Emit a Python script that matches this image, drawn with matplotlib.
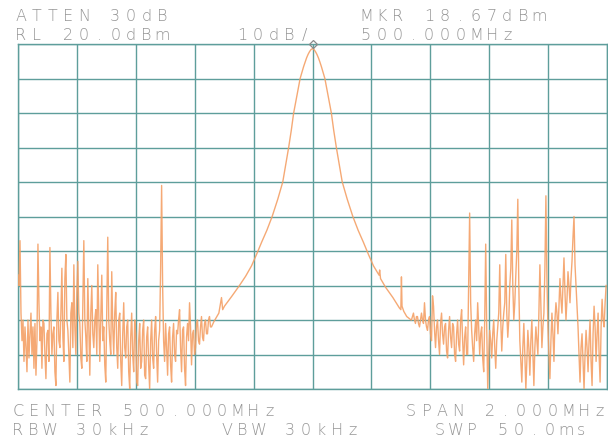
#!/usr/bin/env python3
'''
Spectrum analyzer screen plot: 500 MHz carrier, 2 MHz span, 10 dB/div.
'''
import numpy as np
import matplotlib
matplotlib.use('Agg')
import matplotlib.pyplot as plt

W, H = 608, 439

# analyzer settings
center_mhz = 500.0
span_mhz = 2.0
ref_level = 20.0        # dBm, top line
db_per_div = 10.0
mkr_freq = 500.0
mkr_level = 18.67

# noise floor below the carrier, dBm
left_noise = [-47, -50, -37, -58, -66, -60, -72, -62, -68, -75,
              -60, -71, -64, -58, -70, -62, -74, -61, -76, -66,
              -38, -55, -66, -62, -74, -60, -61, -70, -77, -64,
              -63, -72, -39, -58, -70, -64, -62, -75, -79, -60,
              -52, -66, -68, -58, -45, -65, -72, -48, -41, -60,
              -63, -70, -78, -58, -55, -68, -44, -62, -70, -52,
              -43, -58, -61, -71, -74, -55, -37, -60, -65, -72,
              -48, -62, -76, -58, -50, -64, -68, -60, -57, -70,
              -44, -58, -72, -60, -47, -66, -62, -73, -78, -58,
              -36, -60, -66, -70, -46, -62, -70, -58, -52, -68,
              -74, -60, -58, -72, -79, -64, -55, -68, -71, -62,
              -60, -75, -80, -65, -58, -70, -75, -60, -64, -78,
              -79, -66, -61, -74, -72, -63, -60, -76, -77, -65,
              -62, -73, -80, -66, -60, -71, -74, -63, -59, -70,
              -78, -66, -63, -45, -21, -50, -66, -72, -61, -68,
              -76, -64, -62, -73, -78, -65, -61, -70, -72, -63,
              -64, -60, -57, -68, -75, -63, -62, -74, -79, -65,
              -61, -66, -55, -62, -73, -64, -63, -70, -68, -61,
              -60, -66, -67, -62, -59, -65, -66, -61, -60, -64,
              -64, -60, -59, -62, -62]
left_start_khz, left_stop_khz = -1000, -343

# carrier skirt: offset (kHz) and level (dBm)
skirt_khz = [-335, -318, -309, -305, -299, -273, -248, -227, -207, -190,
             -173, -155, -137, -118, -101, -91, -81, -72, -64, -53,
             -42, -36, -30, -25, -20, -15, -10, -5, 0,
             5, 10, 15, 20, 25, 30, 36, 42, 53, 64,
             72, 81, 91, 101, 118, 137, 155, 173, 190, 207,
             226, 228, 231, 248, 273, 295, 300, 302, 304, 310,
             320, 335]
skirt_dbm = [-60.5, -58, -53.5, -57, -56, -53, -50, -47.3, -44.3, -41,
             -37.5, -34, -30, -25, -20, -15, -10, -5, 0, 5,
             10, 11.8, 13.5, 14.8, 16, 17, 17.8, 18.4, 18.67,
             18.4, 17.8, 17, 16, 14.8, 13.5, 11.8, 10, 5, 0,
             -5, -10, -15, -20, -25, -30, -34, -37.5, -41, -44.3,
             -47, -45.5, -48, -50.5, -53.5, -56.5, -57, -47.5, -56, -57.5,
             -59, -60]

# noise floor above the carrier, dBm
right_noise = [-60, -59, -58, -60, -61, -59, -59, -61, -62, -60,
               -58, -60, -61, -55, -60, -62, -63, -60, -59, -64,
               -66, -53, -56, -63, -68, -62, -60, -66, -70, -61,
               -58, -64, -67, -62, -61, -69, -71, -63, -59, -65,
               -68, -61, -62, -70, -72, -64, -60, -67, -69, -60,
               -57, -66, -73, -65, -62, -70, -70, -50, -29, -55,
               -63, -68, -72, -64, -60, -66, -55, -62, -70, -64,
               -62, -71, -75, -60, -38, -62, -80, -70, -63, -66,
               -71, -64, -60, -68, -74, -66, -62, -58, -44, -60,
               -69, -62, -58, -55, -41, -58, -65, -60, -50, -45,
               -31, -50, -60, -55, -47, -40, -25, -50, -66, -72,
               -78, -68, -61, -70, -80, -72, -63, -68, -76, -66,
               -60, -70, -79, -68, -62, -66, -70, -58, -44, -56,
               -68, -62, -58, -45, -24, -48, -62, -70, -77, -66,
               -58, -64, -72, -60, -55, -58, -64, -56, -48, -54,
               -58, -50, -42, -52, -60, -54, -46, -50, -55, -48,
               -43, -36, -30, -44, -50, -56, -62, -70, -78, -68,
               -64, -72, -80, -70, -63, -68, -75, -66, -60, -72,
               -79, -64, -56, -62, -72, -64, -58, -70, -78, -62,
               -54, -60, -62, -55, -50]
right_start_khz, right_stop_khz = 336, 997

# screen annotations: (text, x of first char, baseline y) in pixels
labels = [("ATTEN 30dB", 21, 21),
          ("RL 20.0dBm", 21, 40),
          ("10dB/", 242, 40),
          ("MKR 18.67dBm", 366, 21),
          ("500.000MHz", 366, 40),
          ("CENTER 500.000MHz", 18, 416),
          ("RBW 30kHz", 18, 435),
          ("VBW 30kHz", 227, 435),
          ("SPAN 2.000MHz", 411, 416),
          ("SWP 50.0ms", 440, 435)]

trace_color = '#f4a066'
grid_color = '#5e9e9b'
text_color = '#959595'
pitch = 15.7            # plotter character pitch, px


def plotter_text(fig, s, x0, y0):
    '''Fixed-pitch text like the analyzer's pen plotter'''
    for i, ch in enumerate(s):
        if ch == ' ':
            continue
        fig.text((x0 + i * pitch) / W, 1 - y0 / H, ch,
                 ha='center', va='baseline', fontsize=11.5,
                 family='DejaVu Sans', fontweight='light',
                 color=text_color)


fig = plt.figure(figsize=(W / 100, H / 100), dpi=100)
ax = fig.add_axes([18 / W, 49 / H, 589 / W, 345 / H])

khz = np.concatenate([np.linspace(left_start_khz, left_stop_khz, len(left_noise)),
                      skirt_khz,
                      np.linspace(right_start_khz, right_stop_khz, len(right_noise))])
dbm = np.concatenate([left_noise, skirt_dbm, right_noise])
freq = center_mhz + khz / 1000.0

ax.plot(freq, dbm, color=trace_color, lw=1.0, alpha=0.9, zorder=3)
ax.plot([mkr_freq], [mkr_level + 1.3], marker='D', markersize=4.5,
        markerfacecolor='none', markeredgecolor='#8a8a8a', mew=0.9,
        clip_on=False, zorder=4)

bottom = ref_level - 10 * db_per_div
ax.set_xlim(center_mhz - span_mhz / 2, center_mhz + span_mhz / 2)
ax.set_ylim(bottom, ref_level)
ax.set_xticks(np.linspace(center_mhz - span_mhz / 2, center_mhz + span_mhz / 2, 11))
ax.set_yticks(np.linspace(bottom, ref_level, 11))
ax.tick_params(length=0, labelbottom=False, labelleft=False)
ax.grid(True, color=grid_color, lw=1.0)
for sp in ax.spines.values():
    sp.set_color(grid_color)
    sp.set_linewidth(1.0)

for s, x0, y0 in labels:
    plotter_text(fig, s, x0, y0)

fig.savefig('out.png', dpi=100)
